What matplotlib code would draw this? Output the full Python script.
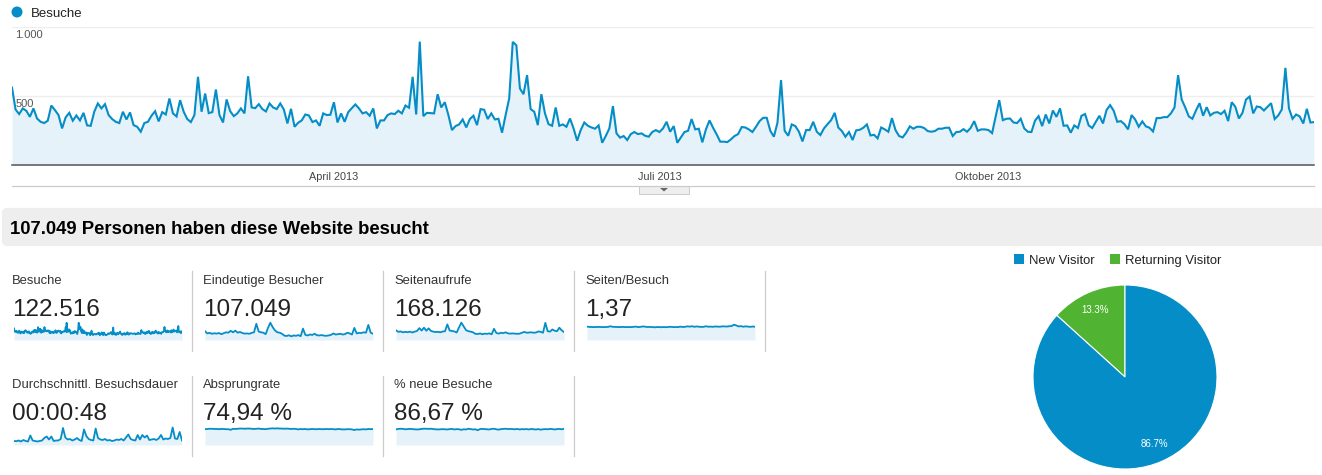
#Recreates the Google Analytics overview (visits over time, kpi tiles and the visitor pie)
import matplotlib
matplotlib.use("Agg")
import numpy as np
import matplotlib.pyplot as plt
from matplotlib.patches import FancyBboxPatch, Polygon, Rectangle, Circle

plt.rcParams['font.family'] = ['Liberation Sans', 'DejaVu Sans']

#daily visits
visits = [
    561, 402, 369, 410, 393, 349, 410, 337, 313, 304, 321, 431, 398, 362, 265, 345, 378, 321, 359, 323,
    378, 287, 284, 386, 446, 410, 441, 362, 333, 313, 304, 386, 330, 381, 289, 277, 241, 304, 313, 357,
    390, 316, 383, 366, 482, 374, 352, 470, 386, 333, 311, 362, 639, 386, 518, 376, 383, 547, 362, 308,
    475, 390, 354, 374, 410, 374, 643, 417, 412, 441, 405, 388, 446, 417, 405, 446, 402, 301, 407, 277,
    306, 323, 366, 359, 311, 323, 284, 374, 362, 364, 455, 308, 374, 313, 383, 412, 439, 410, 374, 383,
    357, 410, 265, 323, 323, 362, 374, 369, 393, 374, 431, 415, 639, 366, 894, 354, 378, 376, 374, 513,
    417, 455, 362, 253, 282, 294, 330, 272, 333, 357, 289, 405, 400, 333, 374, 330, 335, 234, 362, 482,
    892, 868, 554, 513, 651, 405, 386, 289, 513, 374, 296, 284, 417, 284, 294, 277, 337, 265, 176, 253,
    308, 284, 272, 263, 287, 161, 210, 265, 427, 229, 198, 210, 181, 224, 239, 224, 229, 212, 205, 239,
    253, 239, 265, 313, 241, 282, 161, 200, 239, 248, 333, 258, 263, 164, 258, 323, 270, 222, 169, 169,
    166, 186, 210, 224, 275, 272, 258, 239, 277, 318, 342, 342, 248, 205, 306, 615, 248, 212, 294, 282,
    241, 171, 253, 253, 313, 241, 217, 265, 296, 325, 378, 272, 246, 205, 239, 181, 251, 255, 270, 294,
    214, 219, 193, 272, 258, 241, 340, 253, 210, 200, 234, 280, 263, 277, 277, 268, 246, 241, 246, 263,
    263, 270, 270, 210, 239, 241, 260, 241, 268, 318, 248, 258, 258, 253, 231, 349, 470, 325, 335, 337,
    308, 304, 335, 265, 241, 239, 321, 354, 282, 366, 301, 395, 349, 410, 284, 287, 234, 287, 268, 357,
    369, 287, 268, 313, 357, 301, 398, 434, 393, 313, 318, 296, 258, 362, 330, 277, 316, 280, 270, 243,
    340, 340, 347, 347, 374, 417, 651, 475, 417, 352, 335, 395, 448, 357, 419, 359, 378, 383, 369, 393,
    318, 455, 422, 337, 378, 475, 496, 374, 424, 419, 395, 422, 448, 333, 359, 402, 704, 410, 335, 366,
    352, 301, 407, 308, 311,
]

#sparkline values for the kpi tiles (Besuche reuses visits)
unique_visitors = [
    330, 270, 285, 260, 275, 265, 280, 250, 275, 300, 290, 340, 300, 345, 290, 310, 280, 265, 270, 260,
    285, 300, 530, 320, 300, 290, 250, 420, 560, 440, 350, 300, 290, 260, 210, 200, 220, 190, 215, 205,
    225, 195, 400, 230, 215, 240, 230, 260, 220, 215, 225, 210, 205, 215, 230, 270, 240, 250, 260, 240,
    250, 290, 270, 240, 420, 270, 285, 280, 300, 290, 500, 290, 260,
]
page_views = [
    440, 370, 390, 350, 370, 355, 380, 340, 380, 410, 540, 430, 560, 420, 530, 410, 380, 360, 370, 350,
    385, 400, 710, 430, 410, 390, 340, 570, 790, 620, 450, 400, 380, 350, 280, 270, 300, 260, 290, 280,
    300, 260, 510, 320, 290, 330, 310, 350, 300, 290, 300, 290, 280, 290, 330, 370, 330, 340, 350, 330,
    340, 390, 370, 330, 780, 400, 380, 480, 420, 400, 560, 440, 360,
]
pages_per_visit = [
    1.38, 1.35, 1.34, 1.33, 1.34, 1.35, 1.34, 1.33, 1.34, 1.35, 1.42, 1.36, 1.35, 1.34, 1.33, 1.35, 1.34, 1.33, 1.34, 1.33,
    1.36, 1.38, 1.33, 1.36, 1.40, 1.37, 1.34, 1.35, 1.33, 1.31, 1.34, 1.33, 1.32, 1.34, 1.32, 1.35, 1.36, 1.33, 1.34, 1.33,
    1.38, 1.34, 1.36, 1.41, 1.38, 1.42, 1.36, 1.40, 1.37, 1.35, 1.36, 1.42, 1.37, 1.38, 1.36, 1.40, 1.38, 1.37, 1.41, 1.40,
    1.39, 1.42, 1.44, 1.58, 1.50, 1.40, 1.43, 1.37, 1.41, 1.38, 1.36, 1.39, 1.37,
]
avg_duration = [
    40, 38, 45, 35, 50, 40, 35, 95, 45, 40, 35, 40, 45, 70, 85, 55, 85, 40, 45, 45,
    60, 170, 75, 55, 60, 45, 55, 70, 50, 40, 155, 90, 60, 50, 45, 165, 70, 55, 50, 60,
    45, 50, 40, 45, 55, 50, 60, 45, 75, 105, 60, 50, 45, 100, 55, 100, 75, 95, 50, 55,
    60, 50, 65, 100, 55, 65, 60, 70, 175, 65, 60, 130, 45,
]
bounce_rate = [
    74, 75, 76, 76, 75, 75, 74, 75, 75, 74, 74, 71, 76, 75, 76, 77, 77, 76, 77, 77,
    76, 75, 76, 77, 75, 75, 74, 76, 77, 78, 77, 78, 77, 77, 76, 77, 76, 75, 76, 75,
    73, 75, 74, 75, 73, 74, 75, 74, 74, 75, 74, 74, 75, 74, 75, 74, 73, 75, 74, 73,
    73, 74, 74, 73, 70, 73, 72, 73, 74, 73, 75, 74, 75,
]
new_visits_pct = [
    84, 87, 88, 87, 85, 86, 87, 86, 85, 84, 85, 87, 88, 88, 87, 88, 86, 85, 84, 85,
    86, 85, 84, 86, 87, 84, 86, 85, 82, 85, 84, 88, 86, 84, 85, 80, 86, 87, 86, 85,
    84, 87, 88, 85, 83, 86, 87, 88, 86, 87, 86, 85, 87, 84, 86, 85, 86, 84, 87, 85,
    84, 86, 83, 85, 86, 85, 87, 86, 84, 86, 87, 85, 88,
]

month_ticks = [90, 181, 273]
month_labels = ['April 2013', 'Juli 2013', 'Oktober 2013']
y_ticks = [500, 1000]
y_tick_labels = ['500', '1.000']

kpi_names = ['Besuche', 'Eindeutige Besucher', 'Seitenaufrufe', 'Seiten/Besuch',
             'Durchschnittl. Besuchsdauer', 'Absprungrate', '% neue Besuche']
kpi_values = ['122.516', '107.049', '168.126', '1,37', '00:00:48', '74,94 %', '86,67 %']
kpi_series = [visits, unique_visitors, page_views, pages_per_visit, avg_duration, bounce_rate, new_visits_pct]
kpi_limits = [(-118, 1176), (92, 687), (0, 1000), (0, 2.27), (0, 220), (0, 103), (0, 119)]

pie_labels = ['Returning Visitor', 'New Visitor']
pie_values = [13.3, 86.7]

W, H = 1322, 475
BLUE = '#058DC7'
GREEN = '#50B432'
FILL = '#E6F2F9'

fig = plt.figure(figsize=(W / 100, H / 100), dpi=100, facecolor='white')

#axes placed by pixel box, top-left origin like the screenshot
def px_axes(x0, y0, x1, y1, **kw):
    return fig.add_axes([x0 / W, 1 - y1 / H, (x1 - x0) / W, (y1 - y0) / H], **kw)

# full figure overlay in pixel coords for the page furniture
page = px_axes(0, 0, W, H, zorder=0)
page.set_xlim(0, W)
page.set_ylim(H, 0)
page.axis('off')

# legend above the big chart
page.add_patch(Circle((17, 12), 5.5, color=BLUE, lw=0))
page.text(31, 17, 'Besuche', fontsize=9.5, color='#222222', va='baseline')

# big chart
main = px_axes(12, 27, 1314, 165, zorder=2)
days = np.arange(len(visits))
main.fill_between(days, visits, 0, color=FILL, lw=0, zorder=1)
main.plot(days, visits, color=BLUE, lw=1.5, zorder=3, solid_joinstyle='miter')
main.set_xlim(0, len(visits) - 1)
main.set_ylim(0, 1000)
main.patch.set_alpha(0)
for s in ['top', 'left', 'right']:
    main.spines[s].set_visible(False)
main.spines['bottom'].set_color('#555555')
main.spines['bottom'].set_linewidth(1.1)
main.set_yticks(y_ticks)
main.set_yticklabels([])
main.grid(axis='y', color='#EEEEEE', lw=1, zorder=0)
main.set_xticks(month_ticks)
main.set_xticklabels(month_labels, fontsize=7.8, color='#444444')
main.tick_params(axis='both', length=0, pad=5)
for val, lab in zip(y_ticks, y_tick_labels):
    main.text(1, val - 55, lab, fontsize=8.0, color='#555555', va='center', ha='left', zorder=2)

# line and little tab under the big chart
page.plot([12, 1314], [186, 186], color='#CCCCCC', lw=0.9)
page.add_patch(Rectangle((639, 186), 50, 8, fc='#EEEEEE', ec='#CCCCCC', lw=0.7))
page.add_patch(Polygon([[660, 188], [668, 188], [664, 191.5]], color='#666666', lw=0))

# header band
page.add_patch(FancyBboxPatch((4, 210), 1320, 34, boxstyle='round,pad=0,rounding_size=3', fc='#EEEEEE', ec='#EEEEEE', lw=3))
page.text(10, 234, '107.049 Personen haben diese Website besucht', fontsize=13.3, fontweight='bold', color='black', va='baseline')

# kpi tiles
tile_x = [12, 203, 394, 585, 12, 203, 394]
row_y = [271, 376]
name_base = [284, 388]
value_base = [316, 420]
for i in range(len(kpi_names)):
    row = 0 if i < 4 else 1
    top = row_y[row]
    x = tile_x[i]
    page.text(x, name_base[row], kpi_names[i], fontsize=9.35, color='#333333', va='baseline')
    page.text(x, value_base[row], kpi_values[i], fontsize=17.5, color='#222222', va='baseline')
    page.plot([x + 180, x + 180], [top, top + 79.5], color='#CCCCCC', lw=0.9)

    base = top + 69
    spark = px_axes(x + 2, base - 22, x + 170, base, zorder=2)
    vals = kpi_series[i]
    lo, hi = kpi_limits[i]
    xs = np.arange(len(vals))
    spark.fill_between(xs, vals, lo, color=FILL, lw=0)
    spark.plot(xs, vals, color=BLUE, lw=1.3)
    spark.set_xlim(0, len(vals) - 1)
    spark.set_ylim(lo, hi)
    spark.axis('off')

# pie legend
page.add_patch(Rectangle((1014, 254), 10, 10, color=BLUE, lw=0))
page.text(1029, 264, 'New Visitor', fontsize=9.4, color='#222222', va='baseline')
page.add_patch(Rectangle((1110, 254), 10, 10, color=GREEN, lw=0))
page.text(1125, 264, 'Returning Visitor', fontsize=9.4, color='#222222', va='baseline')

# pie
pie_ax = px_axes(1033, 285, 1217, 469, zorder=2)
wedges, texts, autotexts = pie_ax.pie(
    pie_values, colors=[GREEN, BLUE], startangle=90, radius=1.0,
    autopct='%.1f%%', pctdistance=0.8, wedgeprops={'edgecolor': 'white', 'linewidth': 0.8})
for t in autotexts:
    t.set_color('white')
    t.set_fontsize(7)
pie_ax.set_xlim(-1, 1)
pie_ax.set_ylim(-1, 1)

fig.savefig('out.png', dpi=100)
